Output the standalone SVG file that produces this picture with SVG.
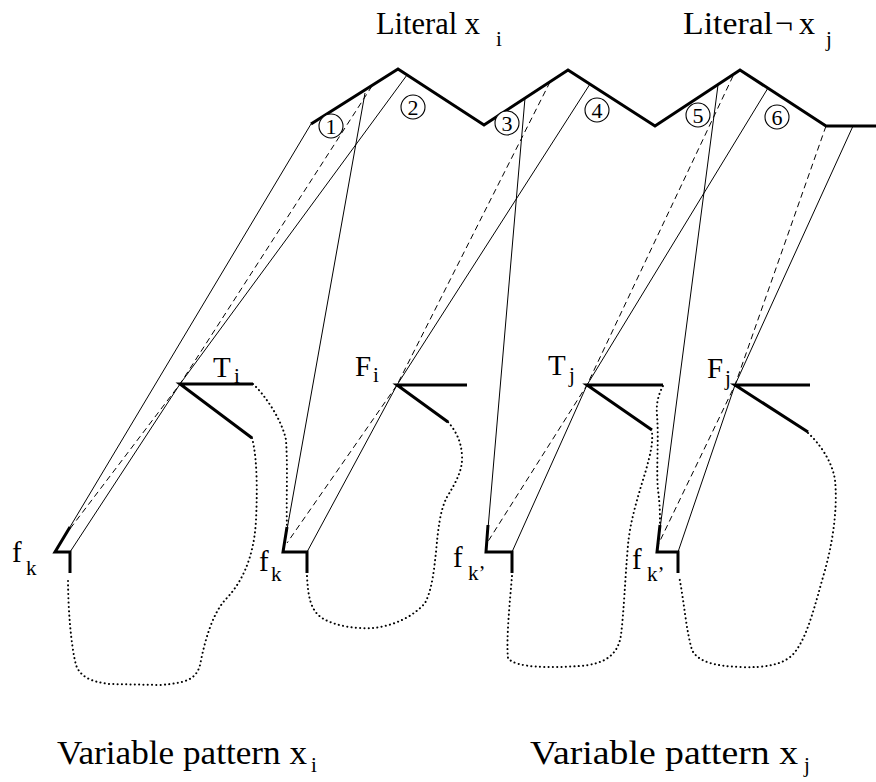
<svg xmlns="http://www.w3.org/2000/svg" width="876" height="782" viewBox="0 0 876 782">
<style>
.thick{stroke:#000;stroke-width:3;fill:none;stroke-linejoin:miter;stroke-linecap:butt}
.thin{stroke:#000;stroke-width:1;fill:none}
.dash{stroke:#000;stroke-width:1;fill:none;stroke-dasharray:6 4}
.dot{stroke:#000;stroke-width:2;fill:none;stroke-dasharray:0.1 4.2;stroke-linecap:round}
.circ{stroke:#000;stroke-width:1.1;fill:#fff}
text{font-family:"Liberation Serif","Times New Roman",serif;fill:#000}
.t{font-size:32px}
.s{font-size:21px}
.l{font-size:29px}
.n{font-size:22px;text-anchor:middle}
.b{font-size:34px}
</style>
<rect width="876" height="782" fill="#fff"/>
<g id="connectors">
<path class="thin" d="M311,124 L55,552"/>
<path class="dash" d="M372,86 L180,384 L63,538"/>
<path class="thin" d="M407,75 L180,384 L70,552"/>
<path class="thin" d="M365,93 L283,552"/>
<path class="dash" d="M550,82 L397,385 L287,543"/>
<path class="thin" d="M590,84 L397,385 L307,552"/>
<path class="thin" d="M525,98 L486,552"/>
<path class="dash" d="M733,76 L587,385 L487,543"/>
<path class="thin" d="M768,88 L587,385 L512,552"/>
<path class="thin" d="M718,85 L657,552"/>
<path class="dash" d="M826,126 L735,385 L658,545"/>
<path class="thin" d="M853,126 L735,385 L678,552"/>
</g>
<g id="literals">
<path class="thick" d="M311,124 L398,69 L484,125 L568,70 L655,126 L740,70 L826,126 L876,126"/>
<text class="t" x="376" y="34" textLength="104" lengthAdjust="spacingAndGlyphs">Literal x</text>
<text class="s" x="496" y="46">i</text>
<text class="t" x="683" y="34" textLength="90" lengthAdjust="spacingAndGlyphs">Literal</text>
<text class="t" x="775" y="34">¬</text>
<text class="t" x="799" y="34">x</text>
<text class="s" x="826" y="46">j</text>
</g>
<g id="occ1"><circle class="circ" cx="331" cy="126" r="12"/><text class="n" x="331" y="134">1</text></g>
<g id="occ2"><circle class="circ" cx="413" cy="107" r="12"/><text class="n" x="413" y="115">2</text></g>
<g id="occ3"><circle class="circ" cx="507" cy="123" r="12"/><text class="n" x="507" y="131">3</text></g>
<g id="occ4"><circle class="circ" cx="597" cy="110" r="12"/><text class="n" x="597" y="118">4</text></g>
<g id="occ5"><circle class="circ" cx="698" cy="115" r="12"/><text class="n" x="698" y="123">5</text></g>
<g id="occ6"><circle class="circ" cx="777" cy="117" r="12"/><text class="n" x="777" y="125">6</text></g>
<g id="Ti">
<path class="thick" d="M253,384 L180,384 L252,438"/>
<text class="l" x="213" y="377">T</text><text class="s" x="234" y="383">i</text>
</g>
<g id="Fi">
<path class="thick" d="M467,385 L397,385 L448,422"/>
<text class="l" x="355" y="376">F</text><text class="s" x="373" y="382">i</text>
</g>
<g id="Tj">
<path class="thick" d="M663,385 L587,385 L652,430"/>
<text class="l" x="548" y="375">T</text><text class="s" x="569" y="382">j</text>
</g>
<g id="Fj">
<path class="thick" d="M810,385 L735,385 L808,432"/>
<text class="l" x="707" y="378">F</text><text class="s" x="725" y="385">j</text>
</g>
<g id="fk1">
<path class="thick" d="M70,527 L55,552 L70,552 L70,573"/>
<text class="l" x="12" y="562">f</text><text class="s" x="26" y="575">k</text>
</g>
<g id="fk2">
<path class="thick" d="M287,527 L283,552 L307,552 L307,573"/>
<text class="l" x="259" y="571">f</text><text class="s" x="271" y="581">k</text>
</g>
<g id="fk3">
<path class="thick" d="M488,525 L486,552 L512,552 L512,573"/>
<text class="l" x="453" y="567">f</text><text class="s" x="468" y="580">k’</text>
</g>
<g id="fk4">
<path class="thick" d="M660,525 L657,552 L678,552 L678,573"/>
<text class="l" x="632" y="569">f</text><text class="s" x="647" y="581">k’</text>
</g>
<g id="patterns">
<path class="dot" d="M252,438 C258,460 257,500 256,520 C254,560 240,585 225,600 C212,615 205,640 200,665 C196,680 185,683 160,685 L110,684 C90,682 80,676 76,665 C71,645 68,610 68,577"/>
<path class="dot" d="M253,384 C265,395 282,420 286,440 C288,470 286,500 287,527"/>
<path class="dot" d="M307,576 C308,595 310,610 322,618 C335,626 355,629 373,628 C395,626 415,615 425,603 C432,590 434,570 436,552 C438,530 440,510 447,497 C456,482 463,470 462,455 C461,440 455,430 448,422"/>
<path class="dot" d="M663,386 C658,395 656,405 657,415 C659,440 656,470 658,490 C660,505 660,515 660,525"/>
<path class="dot" d="M512,576 C510,600 506,640 508,658 C515,668 550,668 580,666 C605,664 618,655 621,635 C624,610 625,580 628,545 C630,520 640,490 646,470 C650,455 653,445 652,432"/>
<path class="dot" d="M808,433 C818,442 832,460 835,480 C838,510 832,545 825,570 C815,605 808,635 795,652 C785,665 765,668 740,667 C715,666 698,662 692,650 C686,630 684,600 679,576"/>
<text class="b" x="57" y="764" textLength="250" lengthAdjust="spacingAndGlyphs">Variable pattern x</text><text class="s" x="311" y="772">i</text>
<text class="b" x="530" y="764" textLength="268" lengthAdjust="spacingAndGlyphs">Variable pattern x</text><text class="s" x="804" y="772">j</text>
</g>
</svg>
